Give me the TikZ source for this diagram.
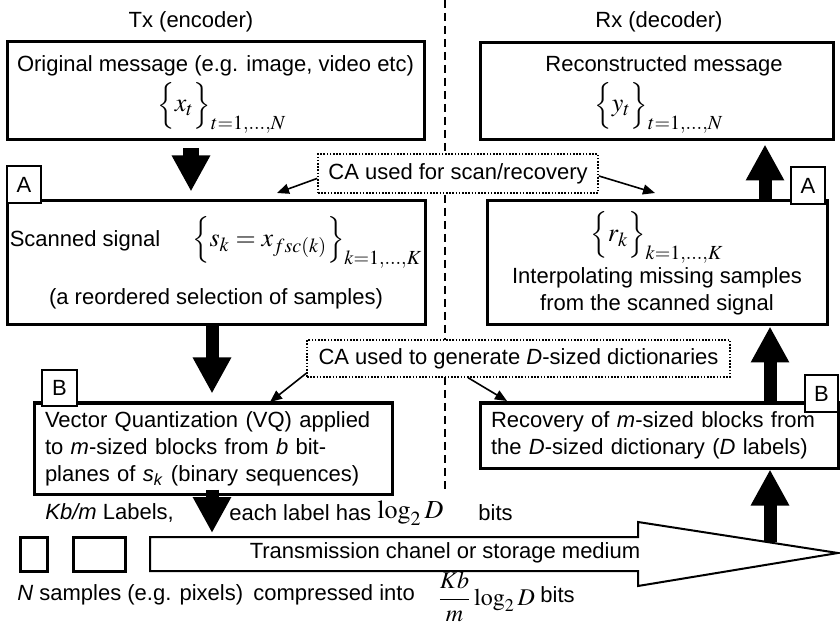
\documentclass[tikz,border=0pt]{standalone}
\usepackage{mathptmx}
\usepackage{fontspec}
\setmainfont{Liberation Sans}
\usetikzlibrary{arrows.meta,calc}
\DeclareMathSizes{13}{13}{10}{7}
\DeclareMathSizes{12}{12}{9}{7}
\newcommand{\mth}[1]{{\fontsize{13}{15}\selectfont$#1$}}
\tikzset{
  box/.style={draw,line width=1.5pt,fill=white,inner sep=0pt,align=center},
  lbox/.style={draw,line width=1.5pt,fill=white,inner xsep=5.5pt,inner ysep=0pt,align=left},
  tab/.style={draw,line width=1pt,fill=white,inner sep=0pt,minimum width=17pt,minimum height=18.5pt},
  cabox/.style={draw,line width=0.8pt,dash pattern=on 0.8pt off 0.8pt,fill=white,inner sep=0pt},
  sqbox/.style={draw,line width=1.5pt,inner sep=0pt,minimum height=17pt},
  bigar/.style={-{Triangle[length=18pt,width=18pt]},line width=6.5pt},
  ar/.style={-{Triangle[length=6pt,width=5pt]},line width=0.8pt},
  txt/.style={anchor=west,inner sep=0pt},
}
\begin{document}
\begin{tikzpicture}[x=0.5pt,y=-0.5pt,font=\fontsize{11}{13.5}\selectfont]
\useasboundingbox (0,0) rectangle (840,625);
% split between the two sides
\coordinate (dtop) at (445,0);
\coordinate (dbot) at (445,490);
\draw[line width=0.8pt,dash pattern=on 4pt off 2.5pt] (dtop) -- (dbot);
\node (tx) at (191,22) {Tx (encoder)};
\node (rx) at (659,22) {Rx (decoder)};
% encoder side
\node[box,minimum width=208.5pt,minimum height=49pt] (orig) at (215.5,91) {};
\node (origl) at (215.5,66) {Original message (e.g. image, video etc)};
\node[inner sep=0pt] (origf) at (222,112) {\smash{\mth{\Bigl\{x_t\Bigr\}_{t=1,\ldots,N}}}};
\node[box,minimum width=209pt,minimum height=62pt] (scan) at (216,263)
   {Scanned signal\hspace{16pt}\mth{\Bigl\{s_k=x_{fsc(k)}\Bigr\}_{k=1,\ldots,K}}\\[9pt]
    (a reordered selection of samples)};
\node[lbox,text width=168pt,minimum height=45.5pt] (vq) at (213,448.5)
   {Vector Quantization (VQ) applied\\
    to \textit{m}-sized blocks from \textit{b} bit-\\
    planes of \textit{s}\textsubscript{\textit{k}} (binary sequences)};
\node[tab] (tA1) at (24,185) {A};
\node[tab,minimum width=17.5pt,minimum height=18pt] (tB1) at (59.5,388) {B};
% decoder side
\node[box,minimum width=176.5pt,minimum height=48.5pt] (recon) at (656.5,91.5) {};
\node (reconl) at (664,66) {Reconstructed message};
\node[inner sep=0pt] (reconf) at (659,112) {\smash{\mth{\Bigl\{y_t\Bigr\}_{t=1,\ldots,N}}}};
\node[box,minimum width=170pt,minimum height=62pt] (interp) at (657,263)
   {\mth{\Bigl\{r_k\Bigr\}_{k=1,\ldots,K}}\\[1pt]
    Interpolating missing samples\\
    from the scanned signal};
\node[lbox,text width=168pt,minimum height=32.5pt] (recov) at (659,435.5)
   {Recovery of \textit{m}-sized blocks from\\
    the \textit{D}-sized dictionary (\textit{D} labels)};
\node[tab] (tA2) at (808,185.5) {A};
\node[tab,minimum width=16.5pt] (tB2) at (821.5,393.5) {B};
% cellular automata notes
\node[cabox,minimum width=140pt,minimum height=19.5pt] (ca1) at (458,173.5)
   {CA used for scan/recovery};
\node[cabox,minimum width=211.5pt,minimum height=18.5pt] (ca2) at (518.5,358.5)
   {CA used to generate \textit{D}-sized dictionaries};
\coordinate (t1) at (277,193);
\coordinate (t2) at (655,193);
\coordinate (t3) at (270,402);
\coordinate (t4) at (507,401);
\draw[ar] (ca1.182) -- (t1);
\draw[ar] (ca1.-1) -- (t2);
\draw[ar] (ca2.184) -- (t3);
\draw[ar] (ca2.201) -- (t4);
% channel
\coordinate (ch) at (150,537);
\draw[line width=1pt,fill=white] (ch) -- (638,537) -- (638,522) -- (838,553)
   -- (638,586) -- (638,571) -- (150,571) -- cycle;
\node (chan) at (445,553) {Transmission chanel or storage medium};
\node[sqbox,minimum width=13.5pt] (sq1) at (33.5,554) {};
\node[sqbox,minimum width=26pt] (sq2) at (99,554) {};
% flow arrows
\coordinate (xa) at (191,0);
\coordinate (xb) at (212,0);
\coordinate (xc) at (765,0);
\coordinate (xd) at (770,0);
\coordinate (chup) at (770,542);
\draw[bigar,line width=8pt,shorten <=3.5pt,shorten >=4pt] (xa |- orig.south) -- (xa |- scan.north);
\draw[bigar,shorten >=4pt] (xb |- scan.south) -- (xb |- vq.north);
\draw[bigar,shorten <=-3pt,shorten >=2pt] (xb |- vq.south) -- (xb |- ch);
\draw[bigar,shorten >=1.5pt] (xc |- interp.north) -- (xc |- recon.south);
\draw[bigar] (xd |- recov.north) -- (xd |- interp.south);
\draw[bigar] (chup) -- (xd |- recov.south);
% bit counts
\node[txt] (lab1) at (45,513) {\textit{Kb/m} Labels,};
\node[txt] (lab2) at (229,513) {each label has};
\node[txt] (lab3) at (377,513) {\mth{\log_2 D}};
\node[txt] (lab4) at (478,513) {bits};
\node[txt] (ns1) at (17,595) {\textit{N} samples (e.g. pixels)};
\node[txt] (ns2) at (253,595) {compressed into};
\node[txt] (ns3) at (437,597) {{\fontsize{12}{14}\selectfont$\displaystyle\frac{Kb}{m}\log_2 D$}};
\node[txt] (ns4) at (540,595) {bits};
\end{tikzpicture}
\end{document}
